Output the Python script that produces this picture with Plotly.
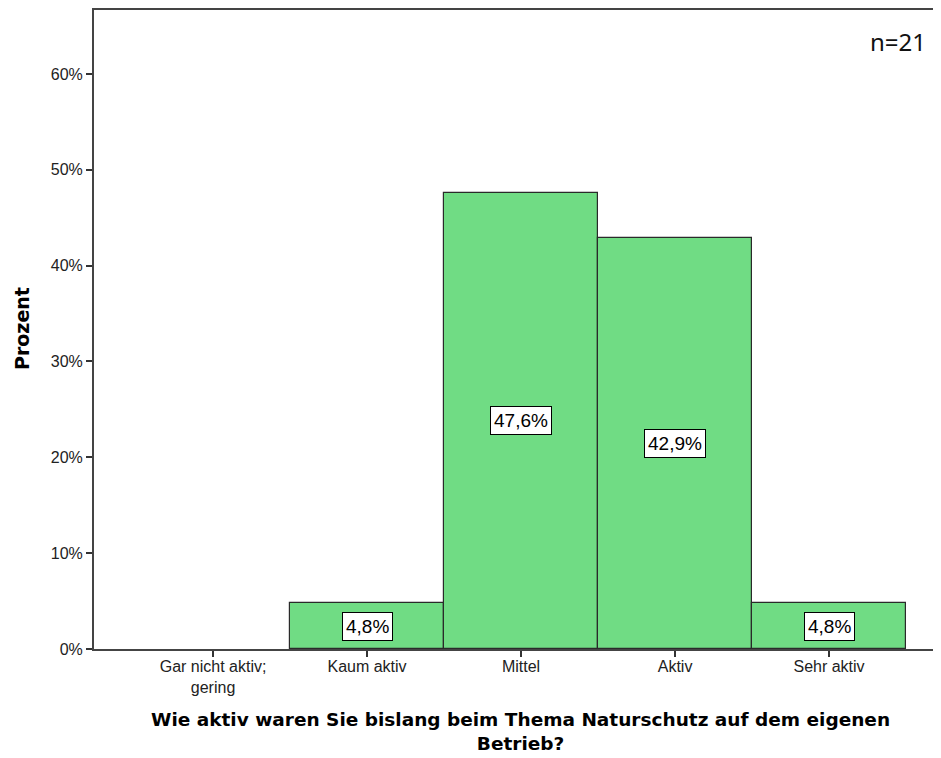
import plotly.graph_objects as go

categories = ["Gar nicht aktiv;<br>gering", "Kaum aktiv", "Mittel", "Aktiv", "Sehr aktiv"]
values = [0.0, 4.8, 47.6, 42.9, 4.8]
labels = ["", "4,8%", "47,6%", "42,9%", "4,8%"]
y_ticks = [0, 10, 20, 30, 40, 50, 60]
y_ticktext = ["0%", "10%", "20%", "30%", "40%", "50%", "60%"]
x_title = "Wie aktiv waren Sie bislang beim Thema Naturschutz auf dem eigenen<br>Betrieb?"

x_idx = list(range(len(categories)))
bar_vals = [v if v > 0 else None for v in values]

# page body has an 8px default margin; figure is sized to fit window
OFF = 8
W, H = 941 - OFF, 758 - OFF
L, R, T, B = 94 - OFF, 0, 10 - OFF, 758 - 649
pw, ph = W - L - R, H - T - B

def px_x(x):  # window pixel -> paper x
    return (x - OFF - L) / pw

def px_y(y):  # window pixel -> paper y
    return (H - B - (y - OFF)) / ph

fig = go.Figure()
fig.add_trace(go.Bar(
    x=x_idx, y=bar_vals,
    marker=dict(color="#70DC84", line=dict(color="#2a2a2a", width=1.2)),
    width=1.0,
    hoverinfo="skip",
))

for i, (v, t) in enumerate(zip(values, labels)):
    if v > 0:
        fig.add_annotation(
            x=i, y=v / 2, text=t, showarrow=False,
            font=dict(family="Liberation Sans, Arial", size=19, color="#000"),
            bgcolor="white", bordercolor="#000", borderwidth=1, borderpad=3,
        )

fig.add_annotation(
    xref="paper", yref="paper", x=px_x(928), y=px_y(42),
    xanchor="right", yanchor="middle",
    text="n=21", showarrow=False,
    font=dict(family="Noto Sans", size=24, color="#111"),
)

# axis titles
fig.add_annotation(
    xref="paper", yref="paper", x=px_x(520), y=px_y(731),
    xanchor="center", yanchor="middle", showarrow=False,
    text="<b>" + x_title + "</b>",
    font=dict(family="DejaVu Sans", size=18.5, color="#000"),
)
fig.add_annotation(
    xref="paper", yref="paper", x=px_x(22), y=px_y(329),
    xanchor="center", yanchor="middle", showarrow=False, textangle=-90,
    text="<b>Prozent</b>",
    font=dict(family="DejaVu Sans", size=19, color="#000"),
)

fig.update_layout(
    width=W, height=H,
    margin=dict(l=L, r=R, t=T, b=B, autoexpand=False),
    plot_bgcolor="white", paper_bgcolor="white",
    showlegend=False,
    bargap=0,
    xaxis=dict(
        range=[-0.773, 4.727], automargin=False,
        tickmode="array", tickvals=x_idx, ticktext=categories,
        ticks="outside", ticklen=6, tickcolor="#333", tickwidth=1.5,
        ticklabelstandoff=-4,
        showline=True, linecolor="#444", linewidth=2, mirror=True,
        showgrid=False, zeroline=False,
        tickfont=dict(family="Liberation Sans, Arial", size=16, color="#222"),
    ),
    yaxis=dict(
        range=[0, 66.67], automargin=False,
        tickmode="array", tickvals=y_ticks, ticktext=y_ticktext,
        ticks="outside", ticklen=6, tickcolor="#333", tickwidth=1.5,
        showline=True, linecolor="#444", linewidth=2,
        showgrid=False, zeroline=False,
        tickfont=dict(family="Liberation Sans, Arial", size=16, color="#222"),
    ),
)

fig.write_html("out.html")
